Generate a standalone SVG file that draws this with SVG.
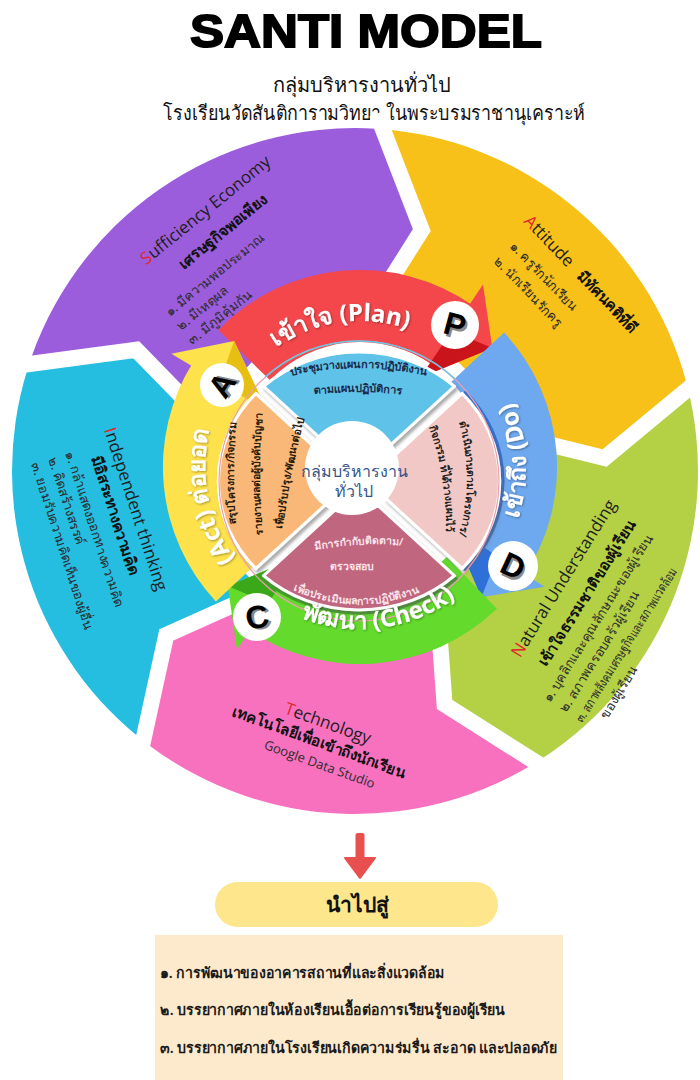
<svg xmlns="http://www.w3.org/2000/svg" width="700" height="1080" viewBox="0 0 700 1080">
<defs>
<style>
.th{font-family:"Noto Sans","DejaVu Sans",sans-serif}
.en{font-family:"Open Sans","Noto Sans",sans-serif}
.hd{font-size:17px;fill:#1e1e1e}
.bd{font-size:15px;font-weight:700;fill:#111}
.li{font-size:13px;fill:#2b2b2b}
.red{fill:#e3262d}
.gap{fill:none;stroke:#fff;stroke-width:16;stroke-linejoin:miter}
.lbl{font-family:"Noto Sans","DejaVu Sans",sans-serif;font-weight:700;font-size:24px;fill:#fff}
.ptx{font-family:"Noto Sans","DejaVu Sans",sans-serif;font-size:10.5px;font-weight:600}
.petal{stroke:#fff;stroke-width:3;stroke-linejoin:round}
.rim{fill:none;stroke-width:5}
.badge circle{fill:#fff}
.badge text{font-family:"Liberation Sans",Arial,sans-serif;font-weight:700;font-size:32px;text-anchor:middle}
.lst{font-family:"Noto Sans","DejaVu Sans",sans-serif;font-size:14.5px;font-weight:600;fill:#1a1a1a}
</style>
<filter id="shadow" x="-10%" y="-10%" width="130%" height="130%">
<feDropShadow dx="2" dy="3" stdDeviation="1.5" flood-color="#666" flood-opacity="0.55"/>
</filter>
<filter id="tsh" x="-5%" y="-20%" width="110%" height="140%">
<feDropShadow dx="1" dy="1" stdDeviation="0.8" flood-color="#000" flood-opacity="0.35"/>
</filter>
<path id="petalShape" d="M-87.6,-94.7 A129,129 0 0 1 87.6,-94.7 L17.4,-24.5 A30,30 0 0 0 -17.4,-24.5 Z"/>
<path id="pPlan" d="M233.6,394 A146,146 0 0 1 461.4,362"/>
<path id="pDo" d="M466.7,594.2 A166,166 0 0 0 455.2,331"/>
<path id="pCheck" d="M245.4,581.6 A162,162 0 0 0 500.3,548"/>
<path id="pAct" d="M294.5,607.5 A155,155 0 0 1 246.6,361.3"/>
<path id="pB1" d="M285,377 Q358,359 432,377"/>
<path id="pB2" d="M300,396 Q358,388 416,396"/>
<path id="pR1" d="M457,416 Q477,478 457,542"/>
<path id="pR2" d="M428,424 Q448,476 446,536"/>
<path id="pM1" d="M310,551 Q358,541 408,546"/>
<path id="pM3" d="M288,588 Q356,620 424,590"/>
<path id="pL1" d="M237,532 Q231,473 237,414"/>
<path id="pL2" d="M263,538 Q257,475 263,410"/>
<path id="pL3" d="M281,540 Q289,475 307,408"/>
</defs>

<rect width="700" height="1080" fill="#fff"/>

<!-- title -->
<g id="title">
<text x="366" y="47" text-anchor="middle" font-family="Liberation Sans, Arial, sans-serif" font-weight="900" font-size="47" fill="#000" stroke="#000" stroke-width="1.8" textLength="352" lengthAdjust="spacingAndGlyphs">SANTI MODEL</text>
<text class="th" x="362" y="92" text-anchor="middle" font-size="20" fill="#111">กลุ่มบริหารงานทั่วไป</text>
<text class="th" x="374" y="120" text-anchor="middle" font-size="20" fill="#111" textLength="422" lengthAdjust="spacingAndGlyphs">โรงเรียนวัดสันติการามวิทยา ในพระบรมราชานุเคราะห์</text>
</g>

<!-- outer ring segments -->
<g id="seg-independent">
<path d="M148.6,744.9 A343,343 0 0 1 27,370.7 L136.3,349.8 L211.6,427.1 A150,150 0 0 0 264.7,590.8 L166.3,635 Z" fill="#25bee0"/>
</g>
<g id="seg-sufficiency">
<path d="M27,370.7 A343,343 0 0 1 375.9,128.7 L421.8,230.1 L364.2,321.3 A150,150 0 0 0 211.6,427.1 L136.3,349.8 Z" fill="#9b5ddc"/>
</g>
<g id="seg-attitude">
<path d="M375.9,128.7 A343,343 0 0 1 686.3,382.2 L604.7,457.9 L499.9,432.2 A150,150 0 0 0 364.2,321.3 L421.8,230.1 Z" fill="#f7c11a"/>
</g>
<g id="seg-natural">
<path d="M686.3,382.2 A343,343 0 0 1 541.8,758.7 L444.6,704.4 L436.7,596.8 A150,150 0 0 0 499.9,432.2 L604.7,457.9 Z" fill="#b4d146"/>
</g>
<g id="seg-technology">
<path d="M541.8,758.7 A343,343 0 0 1 148.6,744.9 L166.3,635 L264.7,590.8 A150,150 0 0 0 436.7,596.8 L444.6,704.4 Z" fill="#f771bf"/>
</g>
<g id="seg-gaps">
<polyline class="gap" points="12.6,366.3 136.3,349.8 211.6,427.1"/>
<polyline class="gap" points="376.8,113.7 421.8,230.1 364.2,321.3"/>
<polyline class="gap" points="700.8,378.3 604.7,457.9 499.9,432.2"/>
<polyline class="gap" points="550,771.3 444.6,704.4 436.7,596.8"/>
<polyline class="gap" points="139.6,756.9 166.3,635 264.7,590.8"/>
</g>

<!-- segment captions -->
<g id="txt-sufficiency" transform="translate(143,268) rotate(-39)">
<text class="en hd" x="85" y="0" text-anchor="middle"><tspan class="red">S</tspan>ufficiency Economy</text>
<text class="th bd" x="85" y="27" text-anchor="middle">เศรษฐกิจพอเพียง</text>
<text class="th li" x="-10" y="55">๑. มีความพอประมาณ</text>
<text class="th li" x="-10" y="73">๒. มีเหตุผล</text>
<text class="th li" x="-10" y="91">๓. มีภูมิคุ้มกัน</text>
</g>
<g id="txt-attitude" transform="translate(523,222) rotate(46)">
<text class="en hd" x="0" y="0"><tspan class="red">A</tspan>ttitude <tspan class="th bd" dx="8">มีทัศนคติที่ดี</tspan></text>
<text class="th li" x="8" y="27">๑. ครูรักนักเรียน</text>
<text class="th li" x="8" y="49">๒. นักเรียนรักครู</text>
</g>
<g id="txt-independent" transform="translate(104,430) rotate(72)">
<text class="en hd" x="85" y="0" text-anchor="middle"><tspan class="red">I</tspan>ndependent thinking</text>
<text class="th bd" x="85" y="21" text-anchor="middle">มีอิสระทางความคิด</text>
<text class="th li" x="10" y="44">๑. กล้าแสดงออกทางความคิด</text>
<text class="th li" x="10" y="62">๒.    คิดสร้างสรรค์</text>
<text class="th li" x="10" y="80">๓. ยอมรับความคิดเห็นของผู้อื่น</text>
</g>
<g id="txt-natural" transform="translate(518,662) rotate(-58)">
<text class="en hd" x="95" y="0" text-anchor="middle"><tspan class="red">N</tspan>atural Understanding</text>
<text class="th bd" x="95" y="27" text-anchor="middle">เข้าใจธรรมชาติของผู้เรียน</text>
<text class="th li" x="-18" y="49" font-size="11.5">๑. บุคลิกและคุณลักษณะของผู้เรียน</text>
<text class="th li" x="-18" y="68" font-size="11.5">๒. สภาพครอบครัวผู้เรียน</text>
<text class="th li" x="-18" y="87" font-size="11" textLength="180" lengthAdjust="spacingAndGlyphs">๓. สภาพสังคมเศรษฐกิจและสภาพแวดล้อม</text>
<text class="th li" x="-2" y="106" font-size="11.5">ของผู้เรียน</text>
</g>
<g id="txt-technology" transform="translate(280,712) rotate(20)">
<text class="en hd" x="49" y="0" text-anchor="middle" font-size="19"><tspan class="red">T</tspan>echnology</text>
<text class="th bd" x="47" y="20" text-anchor="middle">เทคโนโลยีเพื่อเข้าถึงนักเรียน</text>
<text class="en li" x="55" y="40" text-anchor="middle" fill="#444">Google Data Studio</text>
</g>

<!-- PDCA arrows -->
<g id="arrow-plan">
<path d="M218.3,330.1 A197,197 0 0 1 473,305.6 L431.7,364.6 A125,125 0 0 0 270.1,380.2 Z" fill="#f4474b"/>
<path d="M483,284.6 L492.3,347.9 L420.4,377.5 Z" fill="#f4474b"/>
<path d="M420.4,377.5 L492.3,347.9 L451.7,331 Z" fill="#c8141a"/>
</g>
<g id="arrow-do">
<path d="M504.1,332.6 A197,197 0 0 1 523.3,577.2 L463.6,536.9 A125,125 0 0 0 451.4,381.7 Z" fill="#6ea8ef"/>
<path d="M544.5,586.8 L481.4,597.2 L450.6,525.8 Z" fill="#6ea8ef"/>
<path d="M450.6,525.8 L481.4,597.2 L497.5,556.3 Z" fill="#2e6fd8"/>
</g>
<g id="arrow-check">
<path d="M496.9,608.7 A197,197 0 0 1 247,628.4 L288.3,569.4 A125,125 0 0 0 446.8,556.9 Z" fill="#63da2c"/>
<path d="M237,649.4 L227.7,586.1 L299.6,556.5 Z" fill="#63da2c"/>
<path d="M299.6,556.5 L227.7,586.1 L268.3,603 Z" fill="#3aa818"/>
</g>
<g id="arrow-act">
<path d="M215.9,601.4 A197,197 0 0 1 192.9,362.6 L254,400.8 A125,125 0 0 0 268.6,552.3 Z" fill="#fde24c"/>
<path d="M171.4,353.7 L234.1,341.1 L267.4,411.4 Z" fill="#fde24c"/>
<path d="M267.4,411.4 L234.1,341.1 L219.4,382.5 Z" fill="#e6bf12"/>
</g>

<!-- inner petals -->
<g id="petals" transform="translate(359,481) scale(1.09,1)">
<path class="rim" d="M96.1,-89 A131,131 0 0 1 96.1,89" stroke="#2e6fd8"/>
<path class="rim" d="M89,96.1 A131,131 0 0 1 -89,96.1" stroke="#3aa818"/>
<g filter="url(#shadow)">
<use href="#petalShape" class="petal" fill="#5ec3e9"/>
<use href="#petalShape" class="petal" transform="rotate(90)" fill="#f1c8c5"/>
<use href="#petalShape" class="petal" transform="rotate(180)" fill="#c1667f"/>
<use href="#petalShape" class="petal" transform="rotate(270)" fill="#f9b877"/>
</g>
</g>
<g id="ring-line" fill="none">
<circle cx="359" cy="481" r="140" stroke="#e8a1ad" stroke-width="1.2"/>
<path d="M265.3,376.9 A140,140 0 0 1 454.5,378.6" stroke="#6cc4e4" stroke-width="1.5"/>
</g>

<!-- petal texts -->
<g id="petal-plan" class="ptx" fill="#1b2a4a">
<text text-anchor="middle" font-size="11"><textPath href="#pB1" startOffset="50%">ประชุมวางแผนการปฏิบัติงาน</textPath></text>
<text text-anchor="middle" font-size="11"><textPath href="#pB2" startOffset="50%">ตามแผนปฏิบัติการ</textPath></text>
</g>
<g id="petal-do" class="ptx" fill="#222">
<text text-anchor="middle"><textPath href="#pR1" startOffset="50%">ดำเนินงานตามโครงการ/</textPath></text>
<text text-anchor="middle"><textPath href="#pR2" startOffset="50%">กิจกรรม ที่ได้วางแผนไว้</textPath></text>
</g>
<g id="petal-check" class="ptx" fill="#fbe4ec">
<text text-anchor="middle"><textPath href="#pM1" startOffset="50%">มีการกำกับติดตาม/</textPath></text>
<text x="352" y="570" text-anchor="middle">ตรวจสอบ</text>
<text text-anchor="middle"><textPath href="#pM3" startOffset="50%">เพื่อประเมินผลการปฏิบัติงาน</textPath></text>
</g>
<g id="petal-act" class="ptx" fill="#2a1a0a">
<text text-anchor="middle"><textPath href="#pL1" startOffset="50%">สรุปโครงการ/กิจกรรม</textPath></text>
<text text-anchor="middle"><textPath href="#pL2" startOffset="50%">รายงานผลต่อผู้บังคับบัญชา</textPath></text>
<text text-anchor="middle"><textPath href="#pL3" startOffset="50%">เพื่อปรับปรุง/พัฒนาต่อไป</textPath></text>
</g>

<!-- centre -->
<g id="centre">
<circle cx="352" cy="468" r="47" fill="#fff"/>
<text class="th" x="354" y="477" text-anchor="middle" font-size="16" font-weight="500" fill="#35558a">กลุ่มบริหารงาน</text>
<text class="th" x="354" y="497" text-anchor="middle" font-size="16" font-weight="500" fill="#35558a">ทั่วไป</text>
</g>

<!-- arrow labels -->
<g id="arrow-labels" class="lbl" filter="url(#tsh)">
<text text-anchor="middle"><textPath href="#pPlan" startOffset="50%">เข้าใจ (Plan)</textPath></text>
<text text-anchor="middle"><textPath href="#pDo" startOffset="50%">เข้าถึง (Do)</textPath></text>
<text text-anchor="middle"><textPath href="#pCheck" startOffset="50%">พัฒนา (Check)</textPath></text>
<text text-anchor="middle"><textPath href="#pAct" startOffset="50%">(Act) ต่อยอด</textPath></text>
</g>

<!-- step badges -->
<g id="badge-p" class="badge">
<circle cx="455" cy="325" r="24"/>
<g transform="translate(455,325) rotate(15)"><text x="2.5" y="13" fill="#8a8a8a">P</text><text x="0" y="11" fill="#000">P</text></g>
</g>
<g id="badge-d" class="badge">
<circle cx="513" cy="566" r="25"/>
<g transform="translate(513,566) rotate(25)"><text x="2.5" y="13" fill="#8a8a8a">D</text><text x="0" y="11" fill="#000">D</text></g>
</g>
<g id="badge-c" class="badge">
<circle cx="257" cy="617" r="24"/>
<g transform="translate(257,617) rotate(-12)"><text x="2.5" y="13" fill="#8a8a8a">C</text><text x="0" y="11" fill="#000">C</text></g>
</g>
<g id="badge-a" class="badge">
<circle cx="222" cy="385" r="22"/>
<g transform="translate(222,385) rotate(-58)"><text x="2.5" y="13" fill="#8a8a8a">A</text><text x="0" y="11" fill="#000">A</text></g>
</g>

<!-- flow to outcomes -->
<g id="connectors">
<rect x="355.5" y="833" width="9" height="28" rx="2" fill="#e8504f"/>
<path d="M345,858 L375,858 L360,878 Z" fill="#e8504f" stroke="#e8504f" stroke-width="2" stroke-linejoin="round"/>
</g>
<g id="leads-to">
<rect x="215" y="882" width="283" height="45" rx="22.5" fill="#fde68b"/>
<text class="th" x="357" y="912" text-anchor="middle" font-size="21" font-weight="700" fill="#111">นำไปสู่</text>
</g>
<g id="outcomes">
<rect x="155" y="935" width="408" height="145" fill="#fde9cb"/>
<text class="lst" x="160" y="978" textLength="285" lengthAdjust="spacingAndGlyphs">๑. การพัฒนาของอาคารสถานที่และสิ่งแวดล้อม</text>
<text class="lst" x="160" y="1015" textLength="345" lengthAdjust="spacingAndGlyphs">๒. บรรยากาศภายในห้องเรียนเอื้อต่อการเรียนรู้ของผู้เรียน</text>
<text class="lst" x="160" y="1053" textLength="397" lengthAdjust="spacingAndGlyphs">๓. บรรยากาศภายในโรงเรียนเกิดความร่มรื่น สะอาด และปลอดภัย</text>
</g>
</svg>
